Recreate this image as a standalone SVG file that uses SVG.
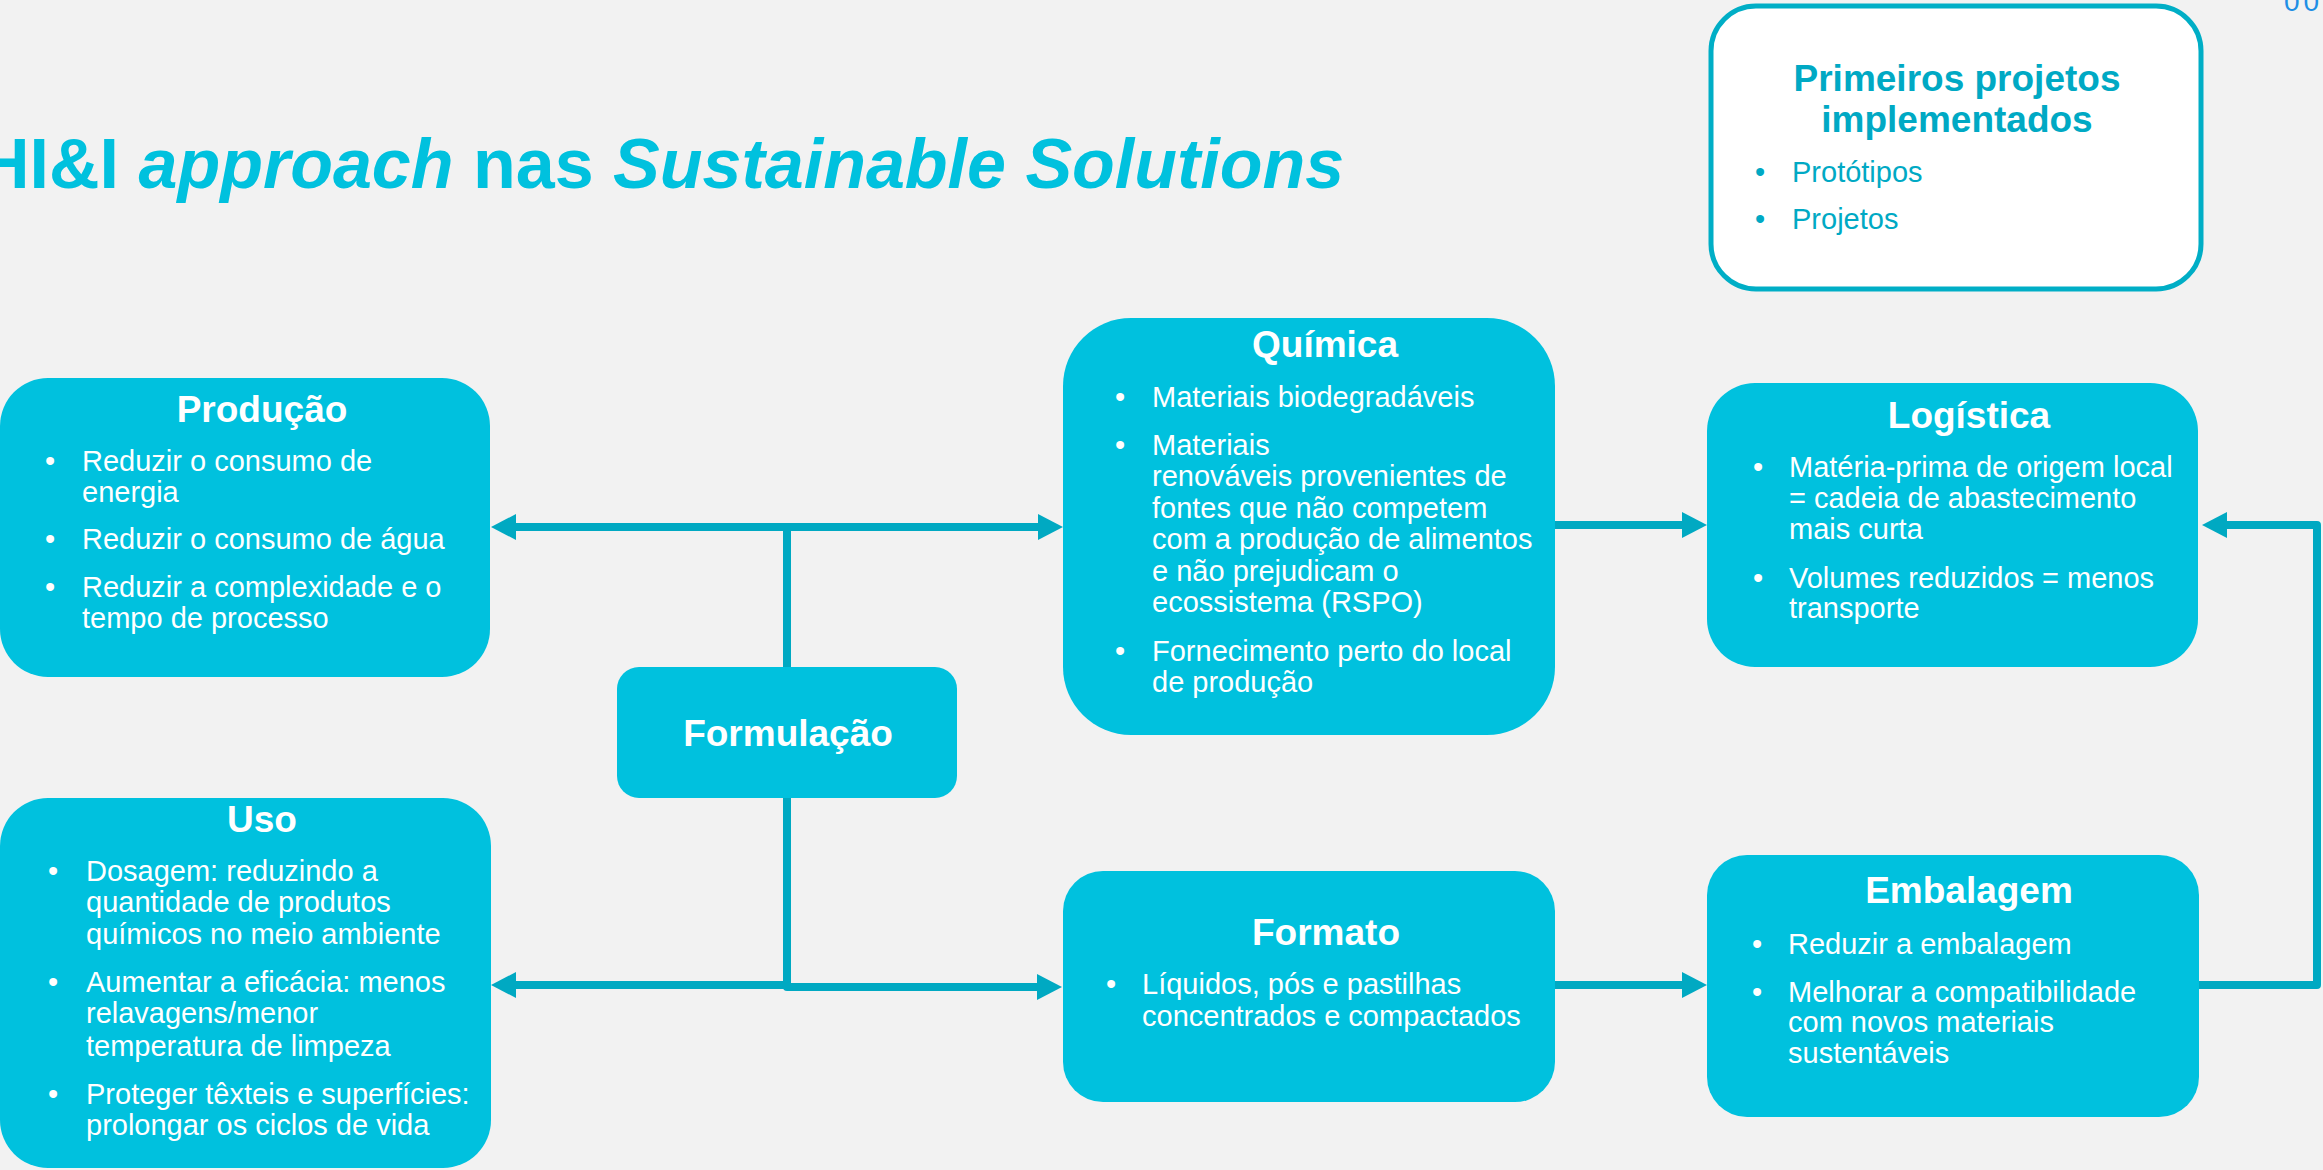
<svg xmlns="http://www.w3.org/2000/svg" width="2323" height="1170" viewBox="0 0 2323 1170">
  <defs>
    <style>
      .node { fill: #00c1de; }
      .ttl { font-family: "Liberation Sans", Arial, sans-serif; font-weight: bold; font-size: 37px; fill: #ffffff; text-anchor: middle; }
      .txt { font-family: "Liberation Sans", Arial, sans-serif; font-size: 29px; fill: #ffffff; }
      .bul { font-family: "Liberation Sans", Arial, sans-serif; font-size: 29px; fill: #ffffff; text-anchor: middle; }
      .conn { fill: none; stroke: #00a9c2; stroke-width: 8; stroke-linecap: round; stroke-linejoin: round; }
      .head { fill: #00a9c2; }
      .dark { fill: #00a9c4; }
    </style>
    <marker id="arrow" markerUnits="userSpaceOnUse" markerWidth="26" markerHeight="28" viewBox="0 -14 26 28" refX="0" refY="0" orient="auto-start-reverse">
      <path class="head" d="M0,-13 L25,0 L0,13 Z"/>
    </marker>
  </defs>

  <rect width="2323" height="1170" fill="#f2f2f2"/>

  <!-- page title -->
  <text x="-21" y="188" font-family="'Liberation Sans', Arial, sans-serif" font-size="70" font-weight="bold" fill="#00c1de">HI&amp;I <tspan font-style="italic">approach</tspan> nas <tspan font-style="italic">Sustainable Solutions</tspan></text>

  <!-- page number -->
  <text x="2284" y="11" font-family="'Liberation Sans', Arial, sans-serif" font-size="28" letter-spacing="4" fill="#1f8fe5">00</text>

  <!-- connectors -->
  <g id="connectors">
    <path class="conn" d="M787,667 V527"/>
    <path class="conn" d="M516,527 H1038" marker-start="url(#arrow)" marker-end="url(#arrow)"/>
    <path class="conn" d="M787,798 V986"/>
    <path class="conn" d="M787,985 H516" marker-end="url(#arrow)"/>
    <path class="conn" d="M787,987 H1037" marker-end="url(#arrow)"/>
    <path class="conn" d="M1555,525 H1682" marker-end="url(#arrow)"/>
    <path class="conn" d="M1555,985 H1682" marker-end="url(#arrow)"/>
    <path class="conn" d="M2199,985 H2317 V525 H2227" marker-end="url(#arrow)"/>
  </g>

  <!-- Primeiros projetos implementados -->
  <g id="primeiros">
    <rect x="1711" y="6" width="490" height="283" rx="45" fill="#ffffff" stroke="#00aec6" stroke-width="5"/>
    <text class="ttl dark" x="1957" y="91">Primeiros projetos</text>
    <text class="ttl dark" x="1957" y="132">implementados</text>
    <text class="bul dark" x="1760" y="182">•</text>
    <text class="txt dark" x="1792" y="182">Protótipos</text>
    <text class="bul dark" x="1760" y="229">•</text>
    <text class="txt dark" x="1792" y="229">Projetos</text>
  </g>

  <!-- Produção -->
  <g id="producao">
    <rect class="node" x="0" y="378" width="490" height="299" rx="48"/>
    <text class="ttl" x="262" y="422">Produção</text>
    <text class="bul" x="50" y="471">•</text>
    <text class="txt" x="82" y="471">Reduzir o consumo de</text>
    <text class="txt" x="82" y="502">energia</text>
    <text class="bul" x="50" y="549">•</text>
    <text class="txt" x="82" y="549">Reduzir o consumo de água</text>
    <text class="bul" x="50" y="597">•</text>
    <text class="txt" x="82" y="597">Reduzir a complexidade e o</text>
    <text class="txt" x="82" y="628">tempo de processo</text>
  </g>

  <!-- Uso -->
  <g id="uso">
    <rect class="node" x="0" y="798" width="491" height="370" rx="48"/>
    <text class="ttl" x="262" y="832">Uso</text>
    <text class="bul" x="53" y="881">•</text>
    <text class="txt" x="86" y="881">Dosagem: reduzindo a</text>
    <text class="txt" x="86" y="912">quantidade de produtos</text>
    <text class="txt" x="86" y="944">químicos no meio ambiente</text>
    <text class="bul" x="53" y="992">•</text>
    <text class="txt" x="86" y="992">Aumentar a eficácia: menos</text>
    <text class="txt" x="86" y="1023">relavagens/menor</text>
    <text class="txt" x="86" y="1056">temperatura de limpeza</text>
    <text class="bul" x="53" y="1104">•</text>
    <text class="txt" x="86" y="1104">Proteger têxteis e superfícies:</text>
    <text class="txt" x="86" y="1135">prolongar os ciclos de vida</text>
  </g>

  <!-- Formulação -->
  <g id="formulacao">
    <rect class="node" x="617" y="667" width="340" height="131" rx="22"/>
    <text class="ttl" x="788" y="746">Formulação</text>
  </g>

  <!-- Química -->
  <g id="quimica">
    <rect class="node" x="1063" y="318" width="492" height="417" rx="68"/>
    <text class="ttl" x="1325" y="357">Química</text>
    <text class="bul" x="1120" y="407">•</text>
    <text class="txt" x="1152" y="407">Materiais biodegradáveis</text>
    <text class="bul" x="1120" y="455">•</text>
    <text class="txt" x="1152" y="455">Materiais</text>
    <text class="txt" x="1152" y="486">renováveis provenientes de</text>
    <text class="txt" x="1152" y="518">fontes que não competem</text>
    <text class="txt" x="1152" y="549">com a produção de alimentos</text>
    <text class="txt" x="1152" y="581">e não prejudicam o</text>
    <text class="txt" x="1152" y="612">ecossistema (RSPO)</text>
    <text class="bul" x="1120" y="661">•</text>
    <text class="txt" x="1152" y="661">Fornecimento perto do local</text>
    <text class="txt" x="1152" y="692">de produção</text>
  </g>

  <!-- Formato -->
  <g id="formato">
    <rect class="node" x="1063" y="871" width="492" height="231" rx="40"/>
    <text class="ttl" x="1326" y="945">Formato</text>
    <text class="bul" x="1111" y="994">•</text>
    <text class="txt" x="1142" y="994">Líquidos, pós e pastilhas</text>
    <text class="txt" x="1142" y="1026">concentrados e compactados</text>
  </g>

  <!-- Logística -->
  <g id="logistica">
    <rect class="node" x="1707" y="383" width="491" height="284" rx="48"/>
    <text class="ttl" x="1969" y="428">Logística</text>
    <text class="bul" x="1758" y="477">•</text>
    <text class="txt" x="1789" y="477">Matéria-prima de origem local</text>
    <text class="txt" x="1789" y="508">= cadeia de abastecimento</text>
    <text class="txt" x="1789" y="539">mais curta</text>
    <text class="bul" x="1758" y="588">•</text>
    <text class="txt" x="1789" y="588">Volumes reduzidos = menos</text>
    <text class="txt" x="1789" y="618">transporte</text>
  </g>

  <!-- Embalagem -->
  <g id="embalagem">
    <rect class="node" x="1707" y="855" width="492" height="262" rx="40"/>
    <text class="ttl" x="1969" y="903">Embalagem</text>
    <text class="bul" x="1757" y="954">•</text>
    <text class="txt" x="1788" y="954">Reduzir a embalagem</text>
    <text class="bul" x="1757" y="1002">•</text>
    <text class="txt" x="1788" y="1002">Melhorar a compatibilidade</text>
    <text class="txt" x="1788" y="1032">com novos materiais</text>
    <text class="txt" x="1788" y="1063">sustentáveis</text>
  </g>
</svg>
